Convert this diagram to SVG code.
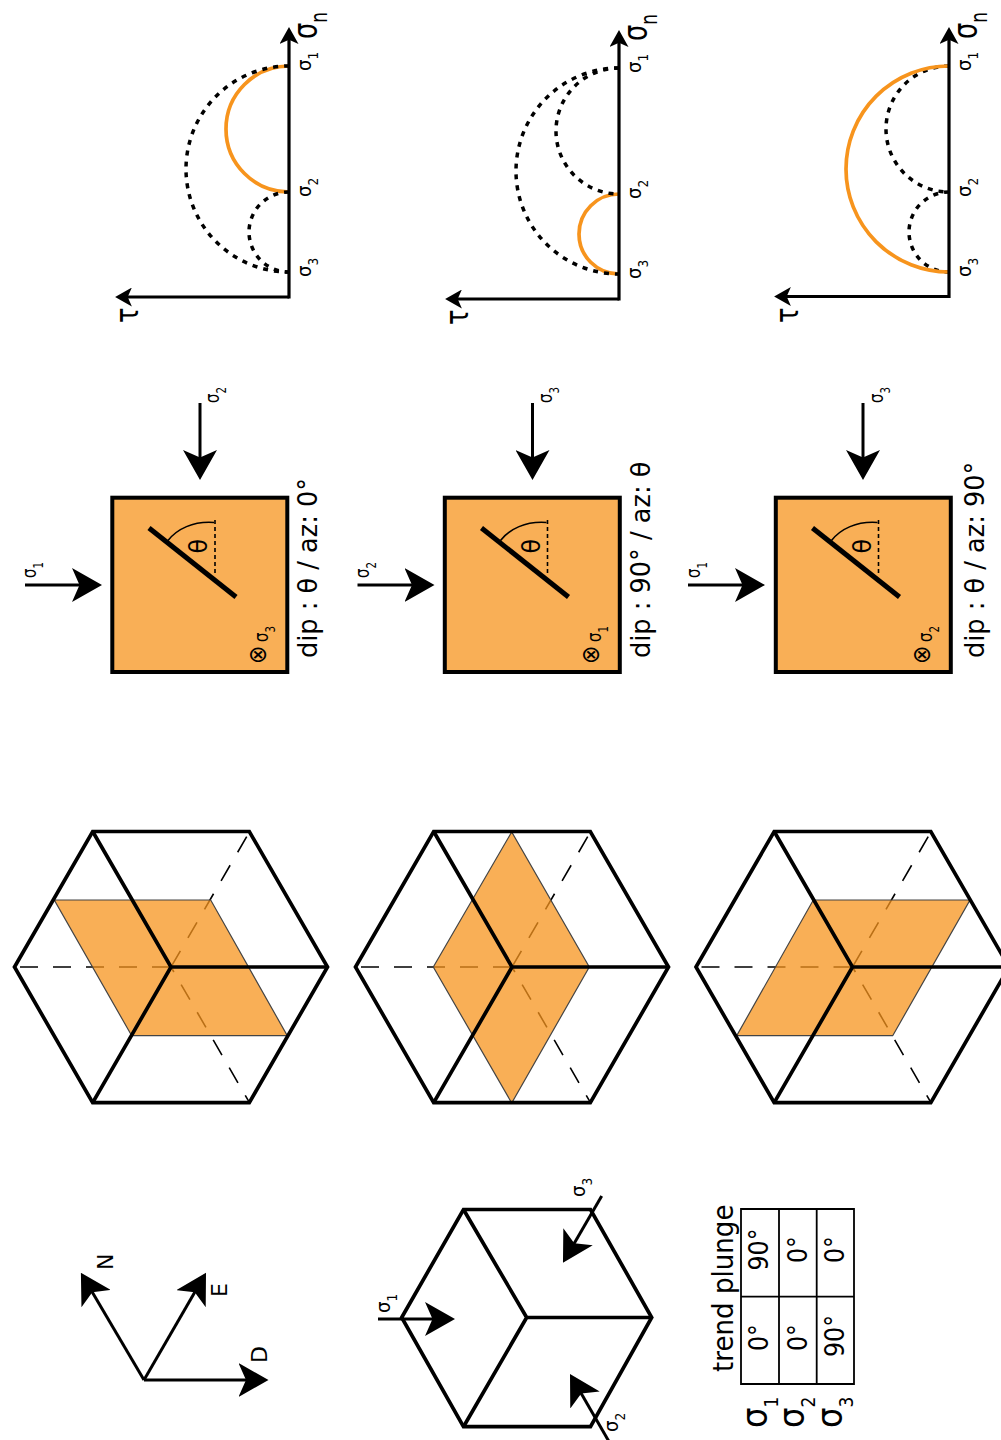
<svg xmlns="http://www.w3.org/2000/svg" xmlns:xlink="http://www.w3.org/1999/xlink" width="1001" height="1440" viewBox="0 0 1001 1440">
<style>
text{font-family:"DejaVu Sans",sans-serif;fill:#000}
.frame{fill:none;stroke:#000;stroke-width:3.7;stroke-linejoin:miter}
.dash{fill:none;stroke:#000;stroke-width:1.6}
.plane{fill:#f7941d;fill-opacity:.75;stroke:#444;stroke-width:1.2}
.square{fill:#f7941d;fill-opacity:.75;stroke:#000;stroke-width:4}
.arrow{fill:none;stroke:#000;stroke-width:3;marker-end:url(#head)}
.axis{fill:none;stroke:#000;stroke-width:3.2;marker-end:url(#headS)}
.circ{fill:none;stroke:#000;stroke-width:3.5;stroke-dasharray:5 6}
.orange{fill:none;stroke:#f7941d;stroke-width:3.7}
.fault{stroke:#000;stroke-width:5;fill:none}
.thin{stroke:#000;stroke-width:1.6;fill:none}
.tick{stroke:#000;stroke-width:1.6;fill:none;stroke-dasharray:4 3}
.cell{fill:none;stroke:#000;stroke-width:1.8}
.s{font-size:20px}
.m{font-size:20px}
.b{font-size:36px}
.big{font-size:30px}
.tau{font-size:32px}
.tbl{font-size:27.5px}
.lab{font-size:26px}
.th{font-size:24px}
.c{font-size:27px;text-anchor:middle}
.ax{font-size:22px}
.x{font-size:25px}
.sub{font-size:13.5px}
.subB{font-size:19px}
</style>
<defs>
<marker id="head" viewBox="0 0 30 34" refX="15" refY="17" markerWidth="30" markerHeight="34" markerUnits="userSpaceOnUse" orient="auto"><path d="M0,0L30,17L0,34L7.5,17Z" fill="#000"/></marker>
<marker id="headS" viewBox="0 0 30 34" refX="15" refY="17" markerWidth="17" markerHeight="19" markerUnits="userSpaceOnUse" orient="auto"><path d="M0,0L30,17L0,34L7.5,17Z" fill="#000"/></marker>
<g id="hexDash">
<path class="dash" stroke-dasharray="18 15" d="M20,967H171"/>
<path class="dash" stroke-dasharray="18 15" d="M246.7,836.7L171,967"/>
<path class="dash" stroke-dasharray="17.5 14.5" stroke-dashoffset="9" d="M249.5,1102.7L171,967"/>
</g>
<g id="hexFrame">
<path class="frame" d="M14.5,967L92.7,831.5H249.3L327.5,967L249.3,1102.7H92.7Z"/>
<path class="frame" d="M92.7,831.5L171,967L92.7,1102.7M171,967H327.5"/>
</g>
<g id="sqDetail">
<path class="fault" d="M149,528L236,597"/>
<path class="thin" d="M168,540.5C177,529 193,521 214,522.5"/>
<path class="tick" d="M215,520V573"/>
</g>
</defs>

<g id="axes-ned">
<text class="ax" transform="translate(113,1270) rotate(-90)">N</text>
<text class="ax" transform="translate(227,1297) rotate(-90)">E</text>
<text class="ax" transform="translate(267,1363) rotate(-90)">D</text>
</g>

<g id="cube">
<path class="frame" d="M401.7,1317.5L463.5,1209.5H590.5L651.7,1317.5L590.5,1426.7H463.5Z"/>
<path class="frame" d="M463.5,1209.5L526.7,1317.5L463.5,1426.7M526.7,1317.5H651.7"/>
<text class="s" transform="translate(390,1313) rotate(-90) scale(.9,1)">σ<tspan class="sub" dy="7">1</tspan></text>
<text class="s" transform="translate(585,1197) rotate(-90) scale(.9,1)">σ<tspan class="sub" dy="7">3</tspan></text>
<text class="s" transform="translate(618,1432) rotate(-90) scale(.9,1)">σ<tspan class="sub" dy="7">2</tspan></text>
</g>

<g id="table">
<path class="cell" d="M741,1209H854V1384H741ZM779,1209V1384M816.7,1209V1384M741,1296.7H854"/>
<text class="tbl" transform="translate(733,1372) rotate(-90) scale(.95,1)">trend plunge</text>
<text class="c" transform="translate(768,1249.5) rotate(-90) scale(.88,1)">90°</text>
<text class="c" transform="translate(807,1249.5) rotate(-90) scale(.88,1)">0°</text>
<text class="c" transform="translate(844,1249.5) rotate(-90) scale(.88,1)">0°</text>
<text class="c" transform="translate(768,1337.5) rotate(-90) scale(.88,1)">0°</text>
<text class="c" transform="translate(807,1337.5) rotate(-90) scale(.88,1)">0°</text>
<text class="c" transform="translate(844,1336) rotate(-90) scale(.88,1)">90°</text>
<text class="b" transform="translate(767,1428) rotate(-90) scale(.9,1)">σ<tspan class="subB" dy="11">1</tspan></text>
<text class="b" transform="translate(804,1428) rotate(-90) scale(.9,1)">σ<tspan class="subB" dy="11">2</tspan></text>
<text class="b" transform="translate(842,1428) rotate(-90) scale(.9,1)">σ<tspan class="subB" dy="11">3</tspan></text>
</g>

<g id="hex-1">
<use href="#hexDash"/>
<polygon class="plane" points="54.3,900 210.7,900 287.3,1035.7 131.7,1035.7"/>
<use href="#hexFrame"/>
</g>
<g id="hex-2">
<use href="#hexDash" x="341"/>
<polygon class="plane" points="433.3,967 511.7,832 589.3,967 511.7,1103"/>
<use href="#hexFrame" x="341"/>
</g>
<g id="hex-3">
<use href="#hexDash" x="681.5"/>
<polygon class="plane" points="813.3,900 970,900 892.7,1035.7 736.7,1035.7"/>
<use href="#hexFrame" x="681.5"/>
</g>

<g id="square-1">
<rect class="square" x="112.3" y="497.7" width="175" height="174.3"/>
<use href="#sqDetail"/>
<text class="th" transform="translate(207,553.5) rotate(-90)">θ</text>
<text class="s" transform="translate(36,578) rotate(-90) scale(.75,1)">σ<tspan class="sub" dy="7">1</tspan></text>
<text class="s" transform="translate(219,403) rotate(-90) scale(.75,1)">σ<tspan class="sub" dy="7">2</tspan></text>
<text class="x" transform="translate(266,664) rotate(-90) scale(.88,1)">⊗</text>
<text class="s" transform="translate(268,642) rotate(-90) scale(.75,1)">σ<tspan class="sub" dy="7">3</tspan></text>
<text class="lab" transform="translate(317,658) rotate(-90) scale(.985,1)">dip : θ / az: 0°</text>
</g>
<g id="square-2">
<rect class="square" x="444.8" y="497.7" width="175" height="174.3"/>
<use href="#sqDetail" x="332.5"/>
<text class="th" transform="translate(539.5,553.5) rotate(-90)">θ</text>
<text class="s" transform="translate(368.5,578) rotate(-90) scale(.75,1)">σ<tspan class="sub" dy="7">2</tspan></text>
<text class="s" transform="translate(551.5,403) rotate(-90) scale(.75,1)">σ<tspan class="sub" dy="7">3</tspan></text>
<text class="x" transform="translate(598.5,664) rotate(-90) scale(.88,1)">⊗</text>
<text class="s" transform="translate(600.5,642) rotate(-90) scale(.75,1)">σ<tspan class="sub" dy="7">1</tspan></text>
<text class="lab" transform="translate(649.5,658) rotate(-90) scale(.985,1)">dip : 90° / az: θ</text>
</g>
<g id="square-3">
<rect class="square" x="775.8" y="497.7" width="175" height="174.3"/>
<use href="#sqDetail" x="663.5"/>
<text class="th" transform="translate(870.5,553.5) rotate(-90)">θ</text>
<text class="s" transform="translate(699.5,578) rotate(-90) scale(.75,1)">σ<tspan class="sub" dy="7">1</tspan></text>
<text class="s" transform="translate(882.5,403) rotate(-90) scale(.75,1)">σ<tspan class="sub" dy="7">3</tspan></text>
<text class="x" transform="translate(929.5,664) rotate(-90) scale(.88,1)">⊗</text>
<text class="s" transform="translate(931.5,642) rotate(-90) scale(.75,1)">σ<tspan class="sub" dy="7">2</tspan></text>
<text class="lab" transform="translate(984,658) rotate(-90) scale(.985,1)">dip : θ / az: 90°</text>
</g>

<g id="mohr-1">
<path class="orange" d="M289,66A63,63 0 0 0 289,192"/>
<path class="circ" d="M289,66A103,103 0 0 0 289,272"/>
<path class="circ" d="M289,192A40,40 0 0 0 289,272"/>
<text class="m" transform="translate(311,71) rotate(-90) scale(.9,1)">σ<tspan class="sub" dy="7">1</tspan></text>
<text class="m" transform="translate(311,197) rotate(-90) scale(.9,1)">σ<tspan class="sub" dy="7">2</tspan></text>
<text class="m" transform="translate(311,277) rotate(-90) scale(.9,1)">σ<tspan class="sub" dy="7">3</tspan></text>
<text class="big" transform="translate(317,39) rotate(-90) scale(.85,1.15)">σ<tspan font-size="20" dy="8.5">n</tspan></text>
<text class="tau" transform="translate(138,323) rotate(-90) scale(.8,1)">τ</text>
</g>
<g id="mohr-2">
<path class="orange" d="M619,194A40,40 0 0 0 619,274"/>
<path class="circ" d="M619,68A103,103 0 0 0 619,274"/>
<path class="circ" d="M619,68A63,63 0 0 0 619,194"/>
<text class="m" transform="translate(641,73) rotate(-90) scale(.9,1)">σ<tspan class="sub" dy="7">1</tspan></text>
<text class="m" transform="translate(641,199) rotate(-90) scale(.9,1)">σ<tspan class="sub" dy="7">2</tspan></text>
<text class="m" transform="translate(641,279) rotate(-90) scale(.9,1)">σ<tspan class="sub" dy="7">3</tspan></text>
<text class="big" transform="translate(647,41) rotate(-90) scale(.85,1.15)">σ<tspan font-size="20" dy="8.5">n</tspan></text>
<text class="tau" transform="translate(468,325) rotate(-90) scale(.8,1)">τ</text>
</g>
<g id="mohr-3">
<path class="circ" d="M949,66A63,63 0 0 0 949,192"/>
<path class="circ" d="M949,192A40,40 0 0 0 949,272"/>
<path class="orange" d="M949,66A103,103 0 0 0 949,272"/>
<text class="m" transform="translate(971,71) rotate(-90) scale(.9,1)">σ<tspan class="sub" dy="7">1</tspan></text>
<text class="m" transform="translate(971,197) rotate(-90) scale(.9,1)">σ<tspan class="sub" dy="7">2</tspan></text>
<text class="m" transform="translate(971,277) rotate(-90) scale(.9,1)">σ<tspan class="sub" dy="7">3</tspan></text>
<text class="big" transform="translate(977,39) rotate(-90) scale(.85,1.15)">σ<tspan font-size="20" dy="8.5">n</tspan></text>
<text class="tau" transform="translate(798,323) rotate(-90) scale(.8,1)">τ</text>
</g>

<g id="connectors">
<path class="arrow" d="M144,1380H253.5"/>
<path class="arrow" d="M144,1380L198.5,1285.7"/>
<path class="arrow" d="M144,1380L88.5,1285.7"/>
<path class="arrow" d="M378,1319H440"/>
<path class="arrow" d="M601.7,1196L570.5,1249.7"/>
<path class="arrow" d="M608.5,1440.7L577.5,1387"/>
<path class="arrow" d="M25,585H87"/>
<path class="arrow" d="M200,403V465"/>
<path class="arrow" d="M357.5,585H419.5"/>
<path class="arrow" d="M532.5,403V465"/>
<path class="arrow" d="M688,585H750"/>
<path class="arrow" d="M863,403V465"/>
<path class="axis" d="M289,298.5V35.5"/>
<path class="axis" d="M289,297H123.5"/>
<path class="axis" d="M619,300.5V38.5"/>
<path class="axis" d="M619,299H453.5"/>
<path class="axis" d="M949,298V35.5"/>
<path class="axis" d="M949,296.5H782.5"/>
</g>
</svg>
